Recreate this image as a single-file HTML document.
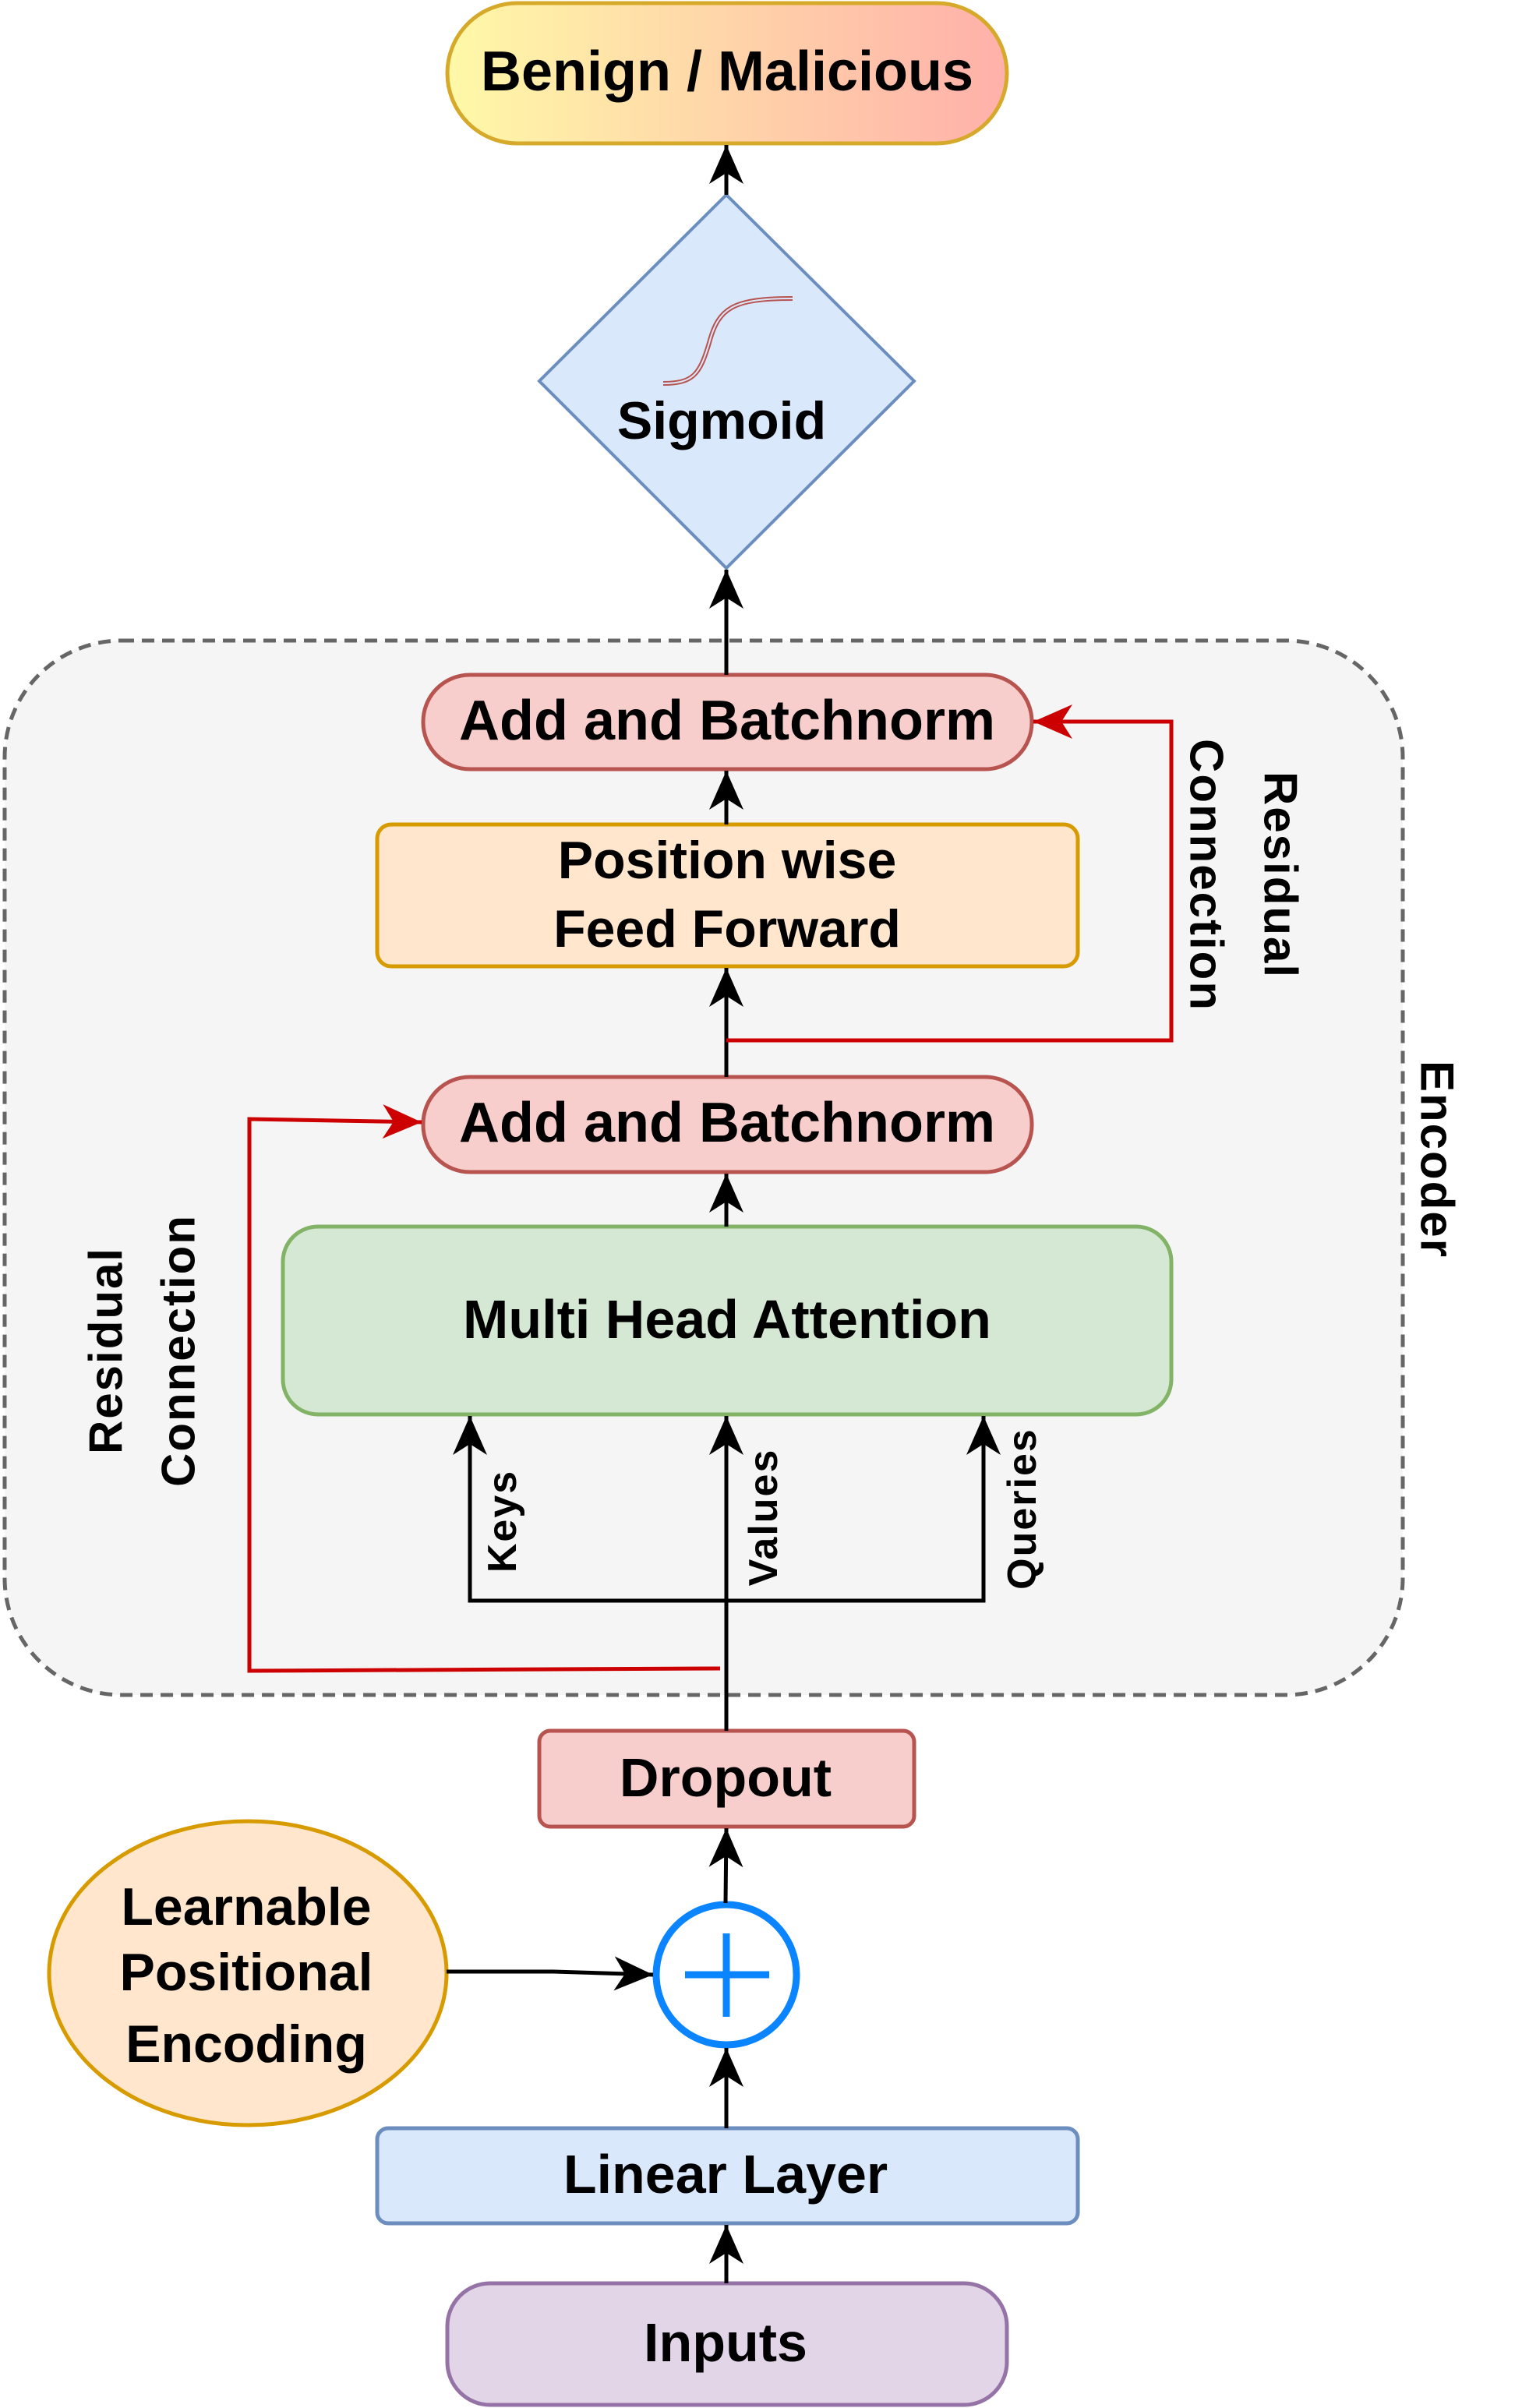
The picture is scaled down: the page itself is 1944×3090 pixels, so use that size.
<!DOCTYPE html>
<html><head><meta charset="utf-8"><style>
html,body{margin:0;padding:0;background:#fff;}
svg{display:block;}
text{font-family:"Liberation Sans",Arial,sans-serif;font-weight:bold;fill:#000;}
</style></head><body>
<svg width="1944" height="3090" viewBox="0 0 1944 3090" xmlns="http://www.w3.org/2000/svg">
<defs>
<marker id="ab" markerUnits="userSpaceOnUse" markerWidth="52" markerHeight="46" refX="50" refY="22" orient="auto">
<path d="M0,0 L50,22 L0,44 L14,22 Z" fill="#000"/></marker>
<marker id="ar" markerUnits="userSpaceOnUse" markerWidth="52" markerHeight="46" refX="50" refY="22" orient="auto">
<path d="M0,0 L50,22 L0,44 L14,22 Z" fill="#CC0000"/></marker>
<linearGradient id="g1" x1="0" x2="1" y1="0" y2="0"><stop offset="0" stop-color="#FFF9A8"/><stop offset="1" stop-color="#FFB0AA"/></linearGradient>
</defs>

<rect x="6" y="822" width="1794" height="1353" rx="150" fill="#f5f5f5" stroke="#666" stroke-width="5" stroke-dasharray="16 10"/>

<rect x="574" y="4" width="718" height="180" rx="90" fill="url(#g1)" stroke="#D6A92A" stroke-width="5"/>
<text x="933" y="92" font-size="72" text-anchor="middle" dominant-baseline="central">Benign / Malicious</text>

<polygon points="932,250 1173,489 932,729 692,489" fill="#dae8fc" stroke="#6c8ebf" stroke-width="4"/>
<path d="M851,492 C890,492 898,480 910,440 C922,395 940,383 1017,383" fill="none" stroke="#b85450" stroke-width="6"/>
<path d="M851,492 C890,492 898,480 910,440 C922,395 940,383 1017,383" fill="none" stroke="#dae8fc" stroke-width="2"/>
<text x="926" y="540" font-size="68" text-anchor="middle" dominant-baseline="central">Sigmoid</text>

<rect x="543" y="866" width="781" height="121" rx="60" fill="#f8cecc" stroke="#b85450" stroke-width="5"/>
<text x="933" y="925" font-size="72" text-anchor="middle" dominant-baseline="central">Add and Batchnorm</text>

<rect x="484" y="1058" width="899" height="182" rx="18" fill="#ffe6cc" stroke="#d79b00" stroke-width="5"/>
<text x="933" y="1104" font-size="68" text-anchor="middle" dominant-baseline="central">Position wise</text>
<text x="933" y="1192" font-size="68" text-anchor="middle" dominant-baseline="central">Feed Forward</text>

<rect x="543" y="1382" width="781" height="122" rx="60" fill="#f8cecc" stroke="#b85450" stroke-width="5"/>
<text x="933" y="1441" font-size="72" text-anchor="middle" dominant-baseline="central">Add and Batchnorm</text>

<rect x="363" y="1574" width="1140" height="241" rx="45" fill="#d5e8d4" stroke="#82b366" stroke-width="5"/>
<text x="933" y="1693" font-size="70" text-anchor="middle" dominant-baseline="central">Multi Head Attention</text>

<rect x="692" y="2221" width="481" height="123" rx="14" fill="#f8cecc" stroke="#b85450" stroke-width="5"/>
<text x="931" y="2281" font-size="70" text-anchor="middle" dominant-baseline="central">Dropout</text>

<ellipse cx="318" cy="2532" rx="255" ry="195" fill="#ffe6cc" stroke="#d79b00" stroke-width="5"/>
<text x="316" y="2447" font-size="68" text-anchor="middle" dominant-baseline="central">Learnable</text>
<text x="316" y="2531" font-size="68" text-anchor="middle" dominant-baseline="central">Positional</text>
<text x="316" y="2623" font-size="68" text-anchor="middle" dominant-baseline="central">Encoding</text>

<circle cx="932" cy="2534" r="90" fill="#fff" stroke="#0A84FF" stroke-width="9"/>
<line x1="879" y1="2534" x2="987" y2="2534" stroke="#0A84FF" stroke-width="9"/>
<line x1="932" y1="2481" x2="932" y2="2588" stroke="#0A84FF" stroke-width="9"/>

<rect x="484" y="2731" width="899" height="122" rx="14" fill="#dae8fc" stroke="#6c8ebf" stroke-width="5"/>
<text x="931" y="2790" font-size="70" text-anchor="middle" dominant-baseline="central">Linear Layer</text>

<rect x="574" y="2930" width="718" height="156" rx="55" fill="#e1d5e7" stroke="#9673a6" stroke-width="5"/>
<text x="931" y="3006" font-size="70" text-anchor="middle" dominant-baseline="central">Inputs</text>

<g stroke="#000" stroke-width="5" fill="none">
<line x1="932" y1="250" x2="932" y2="186" marker-end="url(#ab)"/>
<line x1="932" y1="866" x2="932" y2="731" marker-end="url(#ab)"/>
<line x1="932" y1="1058" x2="932" y2="989" marker-end="url(#ab)"/>
<line x1="932" y1="1382" x2="932" y2="1242" marker-end="url(#ab)"/>
<line x1="932" y1="1574" x2="932" y2="1506" marker-end="url(#ab)"/>
<line x1="932" y1="2221" x2="932" y2="1817" marker-end="url(#ab)"/>
<polyline points="603,1817 603,2054 1262,2054 1262,1817"/>
<line x1="603" y1="1900" x2="603" y2="1817" marker-end="url(#ab)"/>
<line x1="1262" y1="1900" x2="1262" y2="1817" marker-end="url(#ab)"/>
<line x1="931" y1="2442" x2="932" y2="2346" marker-end="url(#ab)"/>
<line x1="932" y1="2731" x2="932" y2="2628" marker-end="url(#ab)"/>
<line x1="932" y1="2930" x2="932" y2="2855" marker-end="url(#ab)"/>
<polyline points="573,2530 710,2530 838,2534" marker-end="url(#ab)"/>
</g>

<g stroke="#CC0000" stroke-width="5" fill="none">
<polyline points="932,1335 1503,1335 1503,926 1326,926" marker-end="url(#ar)"/>
<polyline points="924,2141 320,2144 320,1436 541,1440" marker-end="url(#ar)"/>
</g>

<text transform="translate(645,1952) rotate(-90)" font-size="52" letter-spacing="2" text-anchor="middle" dominant-baseline="central">Keys</text>
<text transform="translate(980,1947) rotate(-90)" font-size="52" letter-spacing="2" text-anchor="middle" dominant-baseline="central">Values</text>
<text transform="translate(1312,1936) rotate(-90)" font-size="52" letter-spacing="2" text-anchor="middle" dominant-baseline="central">Queries</text>
<text transform="translate(136,1733) rotate(-90)" font-size="60" letter-spacing="2" text-anchor="middle" dominant-baseline="central">Residual</text>
<text transform="translate(229,1733) rotate(-90)" font-size="60" letter-spacing="2" text-anchor="middle" dominant-baseline="central">Connection</text>
<text transform="translate(1643,1123) rotate(90)" font-size="60" letter-spacing="2" text-anchor="middle" dominant-baseline="central">Residual</text>
<text transform="translate(1548,1123) rotate(90)" font-size="60" letter-spacing="2" text-anchor="middle" dominant-baseline="central">Connection</text>
<text transform="translate(1844,1488) rotate(90)" font-size="60" letter-spacing="2" text-anchor="middle" dominant-baseline="central">Encoder</text>
</svg>
</body></html>
